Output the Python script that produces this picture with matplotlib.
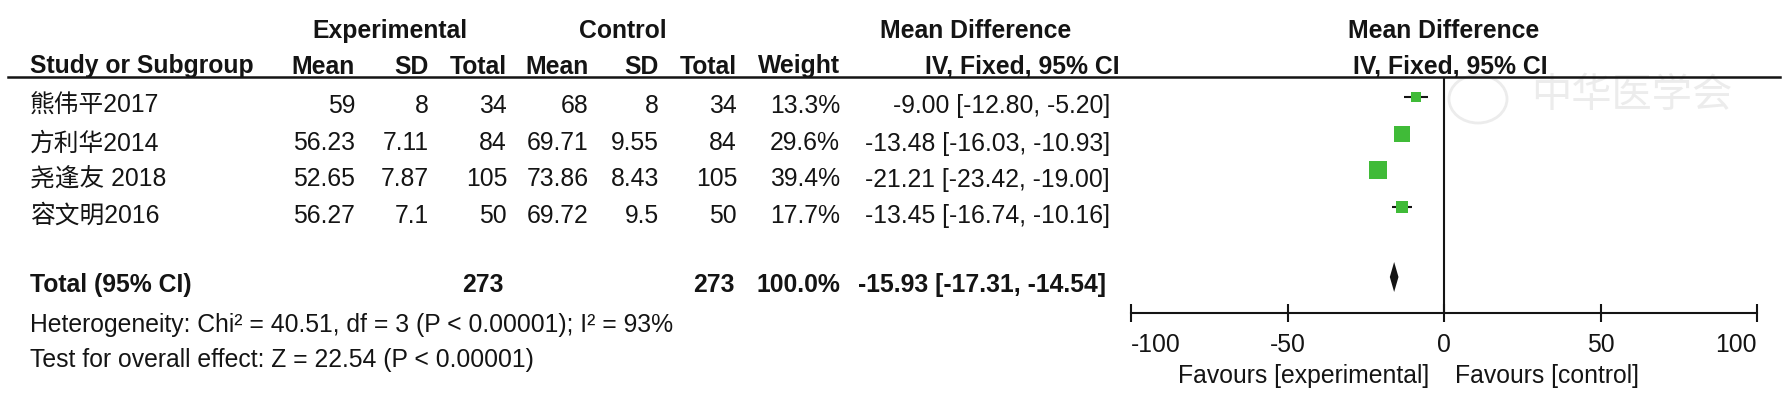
import matplotlib
matplotlib.use('Agg')
import matplotlib.pyplot as plt
from matplotlib.lines import Line2D
from matplotlib.patches import Ellipse

# ---------------- data ----------------
study_labels = ['熊伟平2017', '方利华2014', '尧逢友 2018', '容文明2016']
exp_mean = [59, 56.23, 52.65, 56.27]
exp_sd = [8, 7.11, 7.87, 7.1]
exp_total = [34, 84, 105, 50]
ctl_mean = [68, 69.71, 73.86, 69.72]
ctl_sd = [8, 9.55, 8.43, 9.5]
ctl_total = [34, 84, 105, 50]
weights = [13.3, 29.6, 39.4, 17.7]
md = [-9.00, -13.48, -21.21, -13.45]
ci_lo = [-12.80, -16.03, -23.42, -16.74]
ci_hi = [-5.20, -10.93, -19.00, -10.16]
total_exp = 273
total_ctl = 273
total_weight = 100.0
total_md = -15.93
total_lo = -17.31
total_hi = -14.54
heterogeneity_text = 'Heterogeneity: Chi² = 40.51, df = 3 (P < 0.00001); I² = 93%'
overall_text = 'Test for overall effect: Z = 22.54 (P < 0.00001)'
x_ticks = [-100, -50, 0, 50, 100]
favours_left = 'Favours [experimental]'
favours_right = 'Favours [control]'

# ---------------- style / layout ----------------
W, H = 1789, 399
FS = 17.8
TXT = '#141414'
GREEN = '#40bb38'
WM = '#ececec'
plt.rcParams['font.family'] = ['Liberation Sans', 'Noto Sans CJK SC', 'DejaVu Sans']

fig = plt.figure(figsize=(W / 100, H / 100), dpi=100)
fig.patch.set_facecolor('white')

# table axes in pixel-like coordinates
tab = fig.add_axes([0, 0, 1, 1])
tab.set_xlim(0, W)
tab.set_ylim(H, 0)
tab.axis('off')

def t(x, y, s, ha='right', bold=False, **kw):
    tab.text(x, y, s, ha=ha, va='baseline', fontsize=FS, color=TXT,
             fontweight='bold' if bold else 'normal', **kw)

# watermark (faint, behind everything)
tab.add_patch(Ellipse((1478, 99), 58, 48, fill=False, ec=WM, lw=2, zorder=0))
tab.text(1632, 96, '中华医学会', ha='center', va='center', fontsize=29,
         color=WM, family=['Noto Sans CJK SC'], zorder=0)

# header rows
h1, h2 = 38, 73.5
t(390, h1, 'Experimental', ha='center', bold=True)
t(623, h1, 'Control', ha='center', bold=True)
t(976, h1, 'Mean Difference', ha='center', bold=True)
t(1444, h1, 'Mean Difference', ha='center', bold=True)

col_right = [355, 429, 507, 589, 659, 737, 840]
headers = ['Mean', 'SD', 'Total', 'Mean', 'SD', 'Total', 'Weight']
t(30, h2, 'Study or Subgroup', ha='left', bold=True)
for x, s in zip(col_right, headers):
    t(x, h2, s, bold=True)
t(1120, h2, 'IV, Fixed, 95% CI', bold=True)
t(1450, h2, 'IV, Fixed, 95% CI', ha='center', bold=True)

tab.add_line(Line2D([8, 1780], [77.3, 77.3], color=TXT, lw=1.8))

# study rows
row_base = [113, 150.5, 186.5, 223]
for i, lab in enumerate(study_labels):
    y = row_base[i]
    t(30, y, lab, ha='left')
    vals = [f'{exp_mean[i]:g}', f'{exp_sd[i]:g}', f'{exp_total[i]}',
            f'{ctl_mean[i]:g}', f'{ctl_sd[i]:g}', f'{ctl_total[i]}',
            f'{weights[i]:.1f}%']
    for x, s in zip(col_right, vals):
        t(x, y, s)
    t(1110, y, f'{md[i]:.2f} [{ci_lo[i]:.2f}, {ci_hi[i]:.2f}]')

# total row
yt = 292
t(30, yt, 'Total (95% CI)', ha='left', bold=True)
t(504, yt, f'{total_exp}', bold=True)
t(735, yt, f'{total_ctl}', bold=True)
t(840, yt, f'{total_weight:.1f}%', bold=True)
t(1106, yt, f'{total_md:.2f} [{total_lo:.2f}, {total_hi:.2f}]', bold=True)

t(30, 332, heterogeneity_text, ha='left')
t(30, 367, overall_text, ha='left')

# ---------------- forest plot ----------------
x0, x1 = 1131, 1757
fx = fig.add_axes([x0 / W, 0, (x1 - x0) / W, 1])
fx.set_xlim(x_ticks[0], x_ticks[-1])
fx.set_ylim(H, 0)
fx.patch.set_alpha(0)
for sp in ['top', 'left', 'right']:
    fx.spines[sp].set_visible(False)
axis_y = 313
fx.spines['bottom'].set_position(('data', axis_y))
fx.spines['bottom'].set_linewidth(1.5)
fx.spines['bottom'].set_color(TXT)
fx.set_yticks([])
fx.set_xticks(x_ticks)
fx.tick_params(axis='x', direction='inout', length=13, width=1.5,
               color=TXT, labelbottom=False)

fx.vlines(0, 77.3, axis_y, color=TXT, lw=1.5)

marker_y = [97, 133.5, 169.5, 206.5]
fx.hlines(marker_y, ci_lo, ci_hi, color=TXT, lw=1.5, zorder=2)
for i in range(len(md)):
    side_px = 4.9 + 0.345 * weights[i]
    fx.plot(md[i], marker_y[i], marker='s', ms=side_px * 0.72,
            color=GREEN, mec=GREEN, mew=0, zorder=3)

dy = 277
fx.fill([total_lo, total_md, total_hi, total_md], [dy, dy - 15, dy, dy + 15],
        color=TXT, lw=0, zorder=3)

for k, v in enumerate(x_ticks):
    ha = 'left' if k == 0 else ('right' if k == len(x_ticks) - 1 else 'center')
    fx.text(v, 352, f'{v}', ha=ha, va='baseline', fontsize=FS, color=TXT)

t(1429, 383, favours_left)
t(1455, 383, favours_right, ha='left')

fig.savefig('out.png', dpi=100, facecolor='white')
